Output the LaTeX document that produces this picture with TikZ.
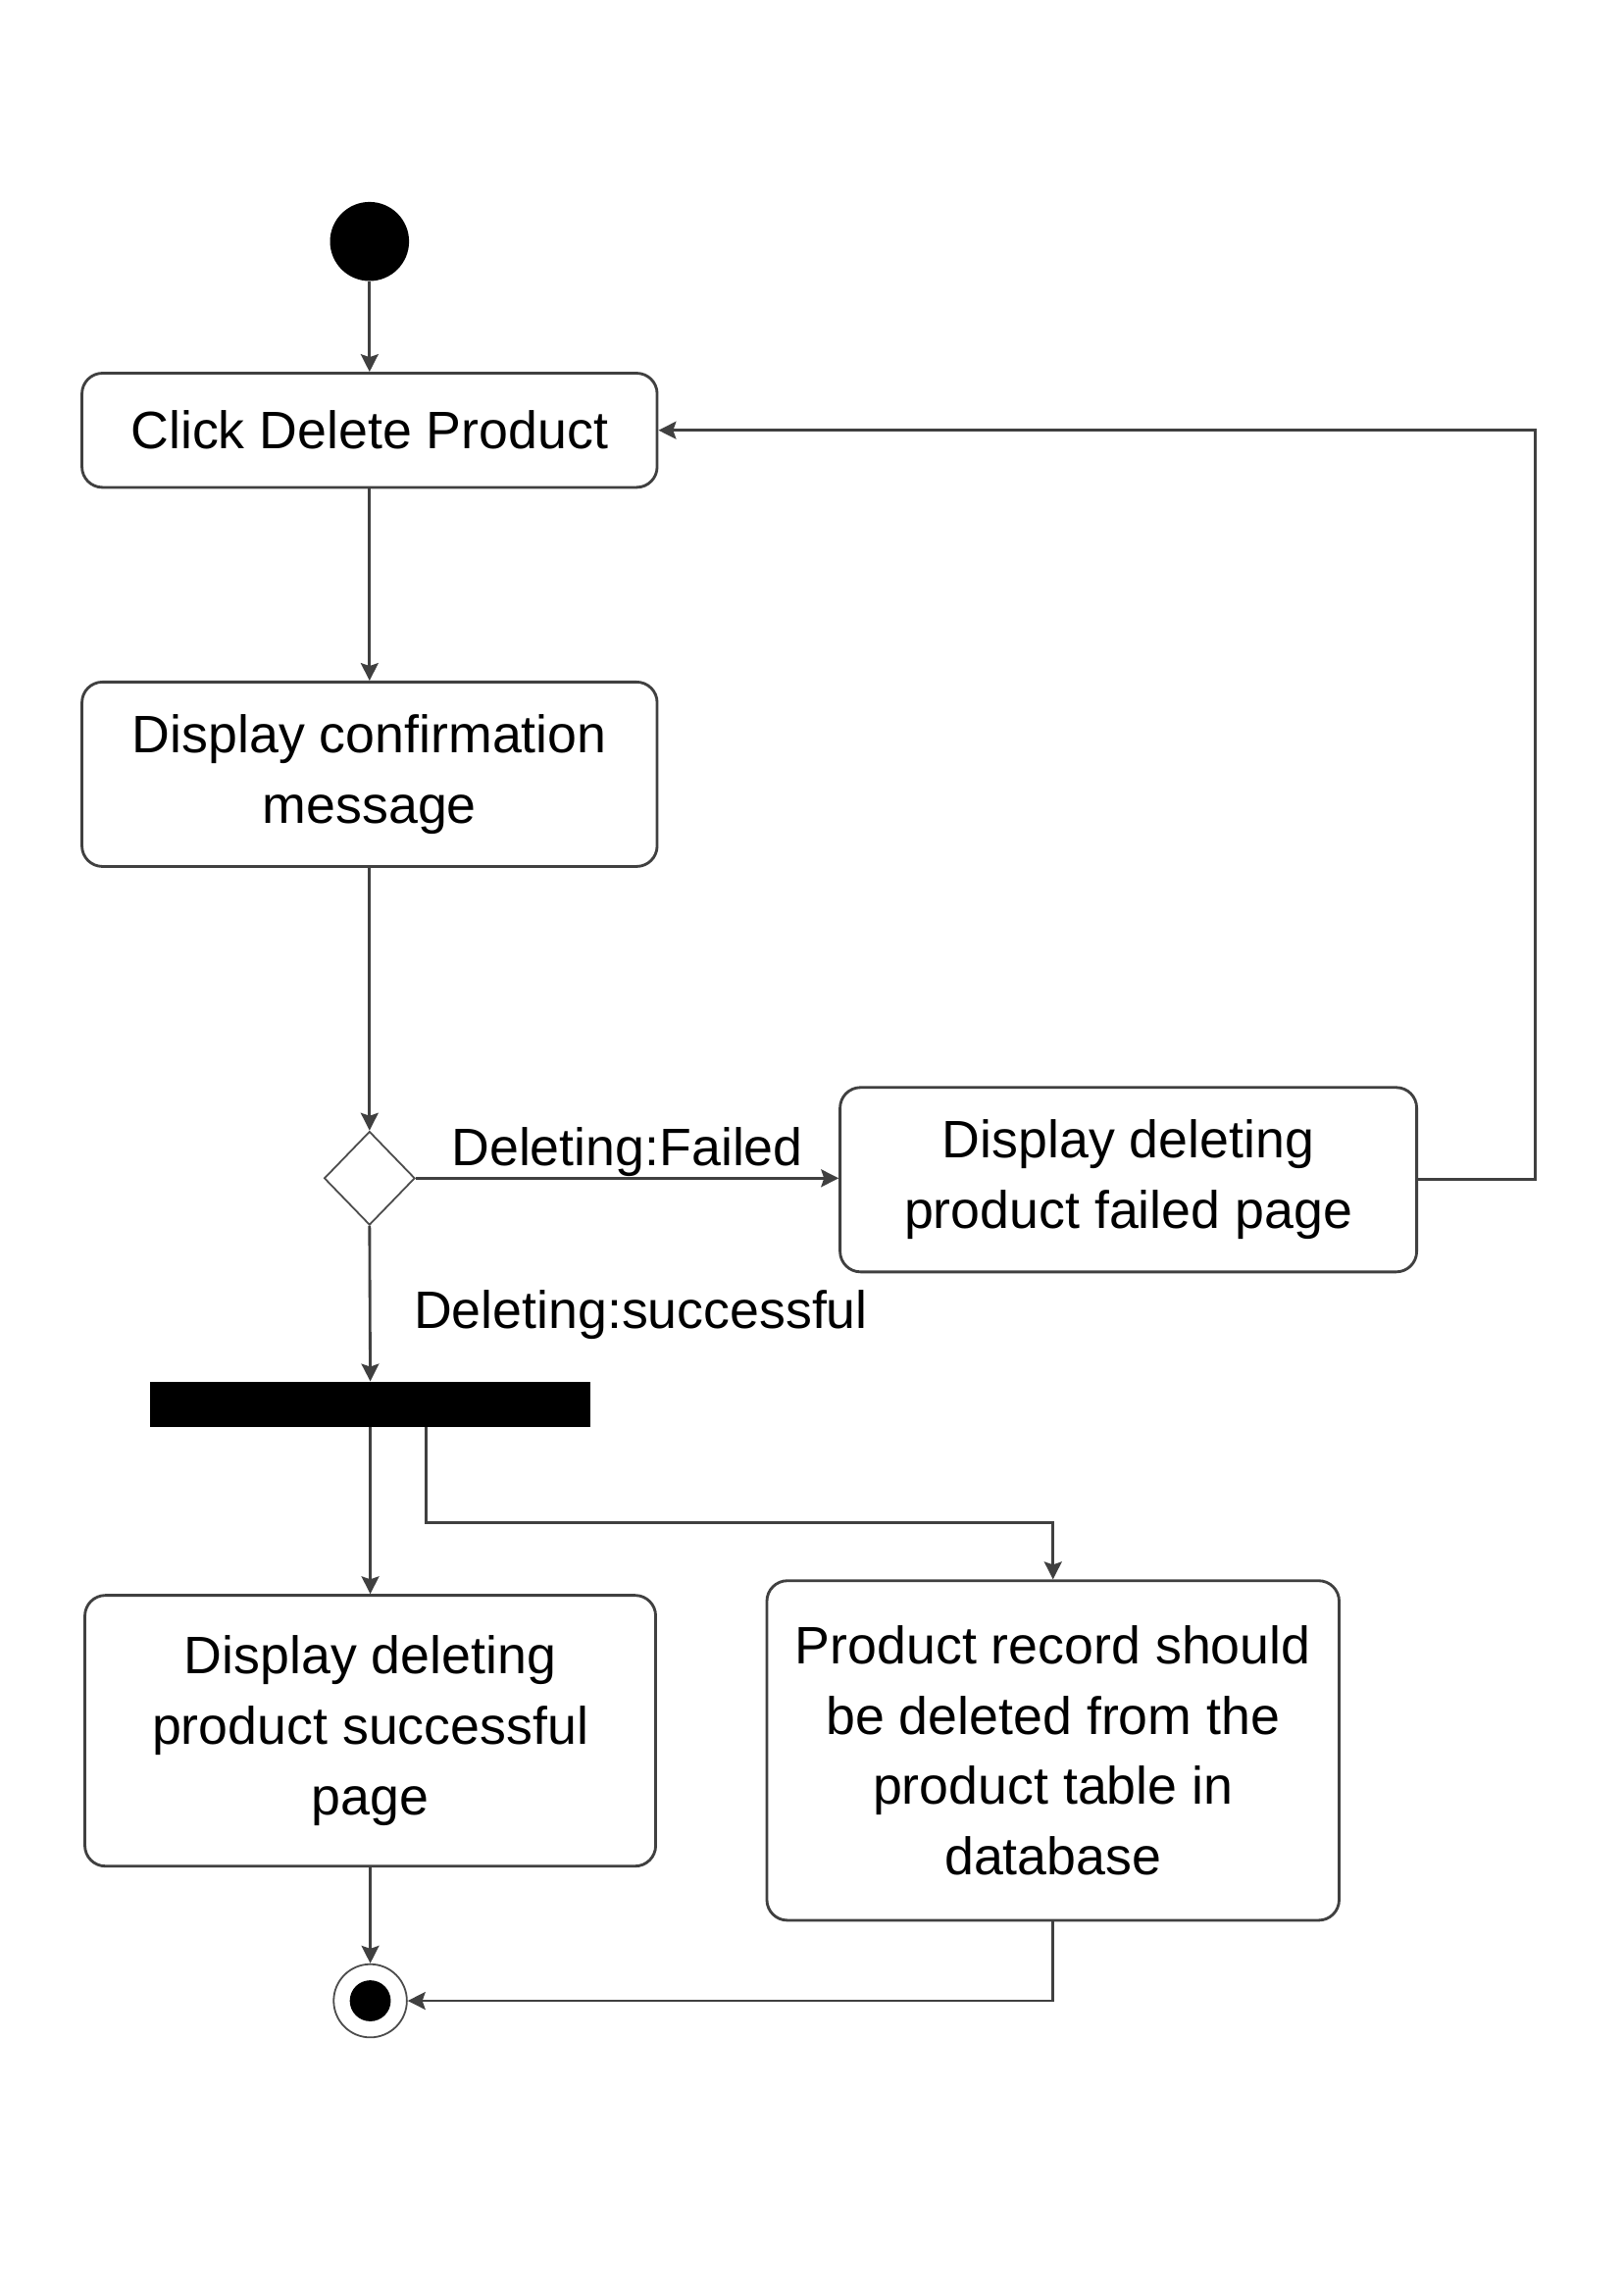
\documentclass[tikz,border=0pt]{standalone}
\usepackage{fontspec}
\setmainfont{Liberation Sans}
\usetikzlibrary{arrows.meta, shapes.geometric}

\begin{document}
\begin{tikzpicture}[x=1pt, y=1pt, >={Stealth[length=12pt, width=12pt, inset=2pt]},
    every node/.style={font=\fontsize{36}{48}\selectfont},
    activity/.style={draw=black!75, line width=1.9pt, rounded corners=14pt, fill=white, align=center, inner sep=0pt},
    flow/.style={->, draw=black!75, line width=1.9pt},
    guard/.style={inner sep=0pt}]

    % 画面の大きさ
    \useasboundingbox (0, 0) rectangle (1109, 1568);

    % 開始・判断・フォーク・終了
    \node[circle, fill=black, minimum size=54pt, inner sep=0pt] (init) at (252.5, 1403) {};
    \node[diamond, draw=black!70, line width=1.2pt, fill=white, minimum width=62pt, minimum height=64pt, inner sep=0pt] (decide) at (252.5, 763) {};
    \node[fill=black, minimum width=301pt, minimum height=31pt, inner sep=0pt] (fork) at (253, 608.5) {};
    \node[circle, draw=black!70, line width=1.2pt, minimum size=50pt, inner sep=0pt,
      path picture={\fill[black] (path picture bounding box.center) circle (14pt);}] (final) at (253, 201) {};

    % アクティビティ
    \node[activity, minimum width=393pt, minimum height=78pt] (click) at (252.5, 1274) {Click Delete Product};
    \node[activity, minimum width=393pt, minimum height=126pt] (confirm) at (252.5, 1039) {Display confirmation\\message};
    \node[activity, minimum width=394pt, minimum height=126pt] (failed) at (771, 762) {Display deleting\\product failed page};
    \node[activity, minimum width=390pt, minimum height=185pt] (success) at (253, 385.5) {Display deleting\\product successful\\page};
    \node[activity, minimum width=391pt, minimum height=232pt] (record) at (719.5, 372) {Product record should\\be deleted from the\\product table in\\database};

    % 遷移
    \draw[flow] (init) -- (click);
    \draw[flow] (click) -- (confirm);
    \draw[flow] (confirm) -- (decide);
    \draw[flow] (decide.east) -- (decide.east -| failed.west)
      node[guard, midway, above] (lblfail) {Deleting:Failed};
    \draw[flow] (decide.south) -- (fork.north)
      node[guard, pos=0.66, anchor=base west, xshift=29pt] (lblok) {Deleting:successful};
    \draw[flow] (failed.east) -- ++(80, 0) |- (click.east);
    \draw[flow] (fork.south) -- (success.north);
    \draw[flow] ([xshift=38pt]fork.south) -- ++(0, -65) -| (record.north);
    \draw[flow] (success) -- (final);
    \draw[flow] (record.south) |- (final.east);

  \end{tikzpicture}
\end{document}
